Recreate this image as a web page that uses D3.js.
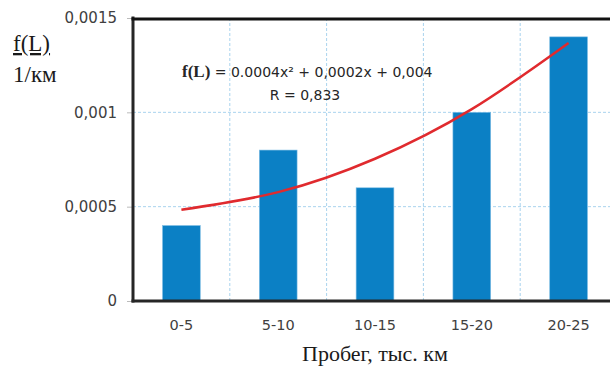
<!DOCTYPE html>
<html>
<head>
<meta charset="utf-8">
<script src="https://cdn.jsdelivr.net/npm/d3@7"></script>
<style>
  body { margin: 0; background: #fff; }
  svg { display: block; }
</style>
</head>
<body>
<div id="chart"></div>
<script>
// data
const categories = ["0-5", "5-10", "10-15", "15-20", "20-25"];
const barValues = [0.0004, 0.0008, 0.0006, 0.001, 0.0014];
// polynomial trendline, value at each category centre
const trendValues = [0.000484, 0.000577, 0.000754, 0.001017, 0.001368];
const yTicks = [0, 0.0005, 0.001, 0.0015];
const yTickLabels = ["0", "0,0005", "0,001", "0,0015"];

const width = 610, height = 367;
const plot = { left: 133, right: 617, top: 18, bottom: 301 };

const svg = d3.select("#chart")
    .append("svg")
    .attr("width", width)
    .attr("height", height);

// scales
const x = d3.scaleBand()
    .domain(categories)
    .range([plot.left, plot.right])
    .padding(0);
const y = d3.scaleLinear()
    .domain([0, 0.0015])
    .range([plot.bottom, plot.top]);

const barW = x.bandwidth() * 0.39;

// dashed gridlines
const grid = svg.append("g").attr("class", "grid");
grid.selectAll("line.h")
    .data(yTicks.filter(d => d > 0 && d < 0.0015))
    .enter().append("line")
    .attr("x1", plot.left).attr("x2", plot.right)
    .attr("y1", d => y(d)).attr("y2", d => y(d))
    .attr("stroke", "#a9d3ee")
    .attr("stroke-width", 1)
    .attr("stroke-dasharray", "3,2");
grid.selectAll("line.v")
    .data(categories.slice(1))
    .enter().append("line")
    .attr("x1", d => x(d)).attr("x2", d => x(d))
    .attr("y1", plot.top).attr("y2", plot.bottom)
    .attr("stroke", "#a9d3ee")
    .attr("stroke-width", 1)
    .attr("stroke-dasharray", "3,2");

// bars
svg.append("g").selectAll("rect")
    .data(barValues)
    .enter().append("rect")
    .attr("x", (d, i) => x(categories[i]) + x.bandwidth() / 2 - barW / 2)
    .attr("y", d => y(d))
    .attr("width", barW)
    .attr("height", d => y(0) - y(d))
    .attr("fill", "#0b80c5")
    .attr("stroke", "#7fbde4")
    .attr("stroke-width", 0.6);

// trendline
const line = d3.line()
    .x((d, i) => x(categories[i]) + x.bandwidth() / 2)
    .y(d => y(d))
    .curve(d3.curveNatural);
svg.append("path")
    .datum(trendValues)
    .attr("d", line)
    .attr("fill", "none")
    .attr("stroke", "#e02a2e")
    .attr("stroke-width", 2.5);

// y axis with short gray ticks
const yAxis = d3.axisLeft(y)
    .tickValues(yTicks)
    .tickSize(6)
    .tickPadding(10)
    .tickFormat((d, i) => yTickLabels[i]);
const gy = svg.append("g")
    .attr("transform", `translate(${plot.left},0)`)
    .call(yAxis);
gy.select(".domain").remove();
gy.selectAll(".tick line").attr("stroke", "#bbbbbb");
gy.selectAll(".tick text")
    .attr("fill", "#404040")
    .style("font-family", "'DejaVu Sans', sans-serif")
    .style("font-size", "15px");

// x axis labels
const xAxis = d3.axisBottom(x).tickSize(0).tickPadding(19);
const gx = svg.append("g")
    .attr("transform", `translate(0,${plot.bottom})`)
    .call(xAxis);
gx.select(".domain").remove();
gx.selectAll(".tick text")
    .attr("fill", "#404040")
    .style("font-family", "'DejaVu Sans', sans-serif")
    .style("font-size", "14.5px");

// frame: left, bottom and top lines
svg.append("line")
    .attr("x1", plot.left).attr("x2", plot.left)
    .attr("y1", plot.top - 1.5).attr("y2", plot.bottom + 1.5)
    .attr("stroke", "#262626").attr("stroke-width", 3);
svg.append("line")
    .attr("x1", plot.left - 1.5).attr("x2", plot.right)
    .attr("y1", plot.bottom).attr("y2", plot.bottom)
    .attr("stroke", "#262626").attr("stroke-width", 3);
svg.append("line")
    .attr("x1", plot.left - 1.5).attr("x2", plot.right)
    .attr("y1", plot.top + 1).attr("y2", plot.top + 1)
    .attr("stroke", "#111").attr("stroke-width", 3);

// equation of the trendline
const eq = svg.append("text")
    .attr("x", 182)
    .attr("y", 77)
    .attr("fill", "#262626")
    .style("font-family", "'DejaVu Sans', sans-serif")
    .style("font-size", "14px");
eq.append("tspan")
    .style("font-family", "'Liberation Serif', serif")
    .style("font-size", "17px")
    .style("font-weight", "bold")
    .text("f(L)");
eq.append("tspan").text(" = 0.0004x² + 0,0002x + 0,004");
svg.append("text")
    .attr("x", 305)
    .attr("y", 100)
    .attr("text-anchor", "middle")
    .attr("fill", "#262626")
    .style("font-family", "'DejaVu Sans', sans-serif")
    .style("font-size", "14px")
    .text("R = 0,833");

// y axis title, fraction style
svg.append("text")
    .attr("x", 13)
    .attr("y", 51)
    .attr("fill", "#1a1a1a")
    .style("font-family", "'Liberation Serif', serif")
    .style("font-size", "23px")
    .style("text-decoration", "underline")
    .text("f(L)");
svg.append("text")
    .attr("x", 13)
    .attr("y", 82)
    .attr("fill", "#1a1a1a")
    .style("font-family", "'Liberation Serif', serif")
    .style("font-size", "23px")
    .text("1/км");

// x axis title
svg.append("text")
    .attr("x", 375)
    .attr("y", 361)
    .attr("text-anchor", "middle")
    .attr("fill", "#1a1a1a")
    .style("font-family", "'Liberation Serif', serif")
    .style("font-size", "22px")
    .text("Пробег, тыс. км");
</script>
</body>
</html>
